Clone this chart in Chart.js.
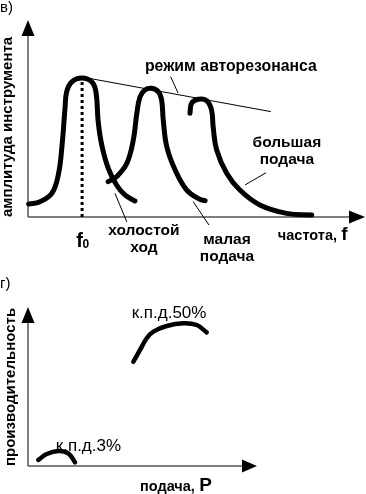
<!DOCTYPE html>
<html>
<head>
<meta charset="utf-8">
<script src="https://cdn.jsdelivr.net/npm/chart.js@4.4.0/dist/chart.umd.min.js"></script>
<style>
  html, body { margin: 0; padding: 0; background: #fff; width: 366px; height: 494px; overflow: hidden; }
  canvas { position: absolute; left: 0; }
</style>
</head>
<body>
<canvas id="chart_v" width="366" height="270" style="top:0"></canvas>
<canvas id="chart_g" width="366" height="224" style="top:270px"></canvas>
<script>
// ---- в) амплитуда инструмента / частота (arbitrary units 0..100)
const idleX  = [0.2, 3.7, 7.4, 9.4, 10.5, 11.5, 12.0, 13.6, 16.8, 19.8, 21.1, 21.8, 22.9, 24.9, 27.5, 30.1, 33.2];
const idleY  = [7.1, 8.4, 13.0, 23.1, 37.9, 59.9, 68.8, 74.3, 76.4, 74.3, 68.8, 52.4, 39.6, 26.9, 17.6, 12.1, 8.8];
const smallX = [24.9, 27.5, 30.7, 32.7, 33.8, 34.8, 36.3, 38.4, 40.5, 41.5, 42.0, 43.1, 45.7, 49.3, 53.4, 55.0];
const smallY = [19.4, 22.1, 29.5, 42.3, 57.0, 66.1, 69.8, 70.7, 68.8, 64.3, 53.3, 38.6, 25.8, 14.8, 9.7, 9.0];
const bigX   = [50.3, 50.8, 52.9, 55.5, 57.0, 57.5, 58.6, 61.7, 65.8, 72.0, 80.3, 88.1];
const bigY   = [57.0, 62.5, 64.7, 63.9, 58.8, 49.6, 36.8, 24.0, 14.8, 6.6, 2.0, 1.1];
const envelopeX = [16.8, 75.4];
const envelopeY = [76.9, 57.9];
const f0 = 16.8;

// ---- г) производительность / подача
const eff50X = [49.0, 52.1, 55.2, 58.3, 64.5, 72.2, 78.5, 83.1];
const eff50Y = [72.4, 80.6, 88.7, 93.3, 97.2, 99.1, 97.9, 92.8];
const eff3X  = [4.8, 8.7, 14.1, 18.7, 21.9];
const eff3Y  = [4.2, 8.3, 10.4, 8.8, 2.6];

const zip = (xs, ys) => xs.map((x, i) => ({ x: x, y: ys[i] }));

const curve = (xs, ys, w) => ({
  data: zip(xs, ys),
  borderColor: "#000",
  borderWidth: w,
  tension: 0.4,
  borderCapStyle: "round",
  borderJoinStyle: "round",
  pointRadius: 0,
  clip: false,
});
const thin = (pts) => ({
  data: pts,
  borderColor: "#000",
  borderWidth: 1,
  tension: 0,
  pointRadius: 0,
  clip: false,
});

// axes with arrows + text notes, all placed via the chart scales
const notes = {
  id: "notes",
  beforeDatasetsDraw(chart, args, opts) {
    const { ctx, scales: { x, y } } = chart;
    const x0 = x.getPixelForValue(0), y0 = y.getPixelForValue(0);
    const xb = x.getPixelForValue(100), yb = y.getPixelForValue(100);
    const xt = x.getPixelForValue(opts.xTip), yt = y.getPixelForValue(opts.yTip);
    ctx.save();
    ctx.strokeStyle = "#555";
    ctx.lineWidth = 1.5;
    ctx.beginPath();
    ctx.moveTo(x0, y0); ctx.lineTo(xb, y0);
    ctx.moveTo(x0, y0); ctx.lineTo(x0, yb);
    ctx.stroke();
    ctx.fillStyle = "#000";
    ctx.beginPath();
    ctx.moveTo(xt, y0); ctx.lineTo(xb - 1, y0 - 6.5); ctx.lineTo(xb - 1, y0 + 6.5);
    ctx.closePath(); ctx.fill();
    ctx.beginPath();
    ctx.moveTo(x0, yt); ctx.lineTo(x0 - 6.5, yb + 1); ctx.lineTo(x0 + 6.5, yb + 1);
    ctx.closePath(); ctx.fill();
    ctx.restore();
  },
  afterDatasetsDraw(chart, args, opts) {
    const { ctx, scales: { x, y } } = chart;
    ctx.save();
    ctx.fillStyle = "#000";
    opts.labels.forEach(l => {
      const px = x.getPixelForValue(l.x), py = y.getPixelForValue(l.y);
      ctx.font = l.font;
      ctx.textAlign = l.align || "center";
      ctx.textBaseline = l.base || "alphabetic";
      if (l.rot) {
        ctx.save();
        ctx.translate(px, py);
        ctx.rotate(-Math.PI / 2);
        ctx.fillText(l.t, 0, 0);
        ctx.restore();
      } else {
        ctx.fillText(l.t, px, py);
      }
    });
    ctx.restore();
  }
};

const B = "Liberation Sans, Arial, sans-serif";

const baseOptions = (pad, xTip, yTip, labels) => ({
  responsive: false,
  animation: false,
  layout: { padding: pad },
  scales: {
    x: { type: "linear", display: false, min: 0, max: 100 },
    y: { type: "linear", display: false, min: 0, max: 100 },
  },
  plugins: {
    legend: { display: false },
    tooltip: { enabled: false },
    notes: { xTip: xTip, yTip: yTip, labels: labels },
  },
});

new Chart(document.getElementById("chart_v").getContext("2d"), {
  type: "line",
  data: {
    datasets: [
      curve(idleX, idleY, 5),
      curve(smallX, smallY, 5),
      curve(bigX, bigY, 5),
      thin(zip(envelopeX, envelopeY)),
      Object.assign(thin([{ x: f0, y: 0 }, { x: f0, y: 76.4 }]), { borderWidth: 3, borderDash: [3, 3] }),
      thin([{ x: 44.3, y: 77.1 }, { x: 46.6, y: 68.1 }]),
      thin([{ x: 73.9, y: 24.3 }, { x: 67.4, y: 17.6 }]),
      thin([{ x: 27.0, y: 13.0 }, { x: 30.7, y: -2.7 }]),
      thin([{ x: 51.3, y: 8.4 }, { x: 56.2, y: -4.4 }]),
    ],
  },
  options: baseOptions({ left: 28, right: 16, top: 35, bottom: 53 }, 104.7, 108.2, [
    { t: "в)", x: -8.7, y: 112.6, font: "15px " + B, align: "left" },
    { t: "амплитуда инструмента", x: -6.2, y: 49.5, font: "bold 15px " + B, base: "middle", rot: true },
    { t: "режим авторезонанса", x: 63.0, y: 80.2, font: "bold 15.8px " + B },
    { t: "большая", x: 80.4, y: 38.5, font: "bold 15.5px " + B },
    { t: "подача", x: 80.4, y: 29.1, font: "bold 15.5px " + B },
    { t: "холостой", x: 36.0, y: -9.9, font: "bold 15.5px " + B },
    { t: "ход", x: 36.0, y: -19.2, font: "bold 15.5px " + B },
    { t: "малая", x: 61.8, y: -14.8, font: "bold 15.5px " + B },
    { t: "подача", x: 61.8, y: -24.2, font: "bold 15.5px " + B },
    { t: "f", x: 16.0, y: -16.5, font: "bold 20px " + B },
    { t: "0", x: 18.0, y: -17.0, font: "bold 12px " + B },
    { t: "частота,", x: 77.6, y: -12.9, font: "bold 14.5px " + B, align: "left" },
    { t: "f", x: 97.3, y: -12.6, font: "bold 19px " + B, align: "left" },
  ]),
  plugins: [notes],
});

new Chart(document.getElementById("chart_g").getContext("2d"), {
  type: "line",
  data: {
    datasets: [
      Object.assign(curve(eff50X, eff50Y, 4.5), { tension: 0.3 }),
      curve(eff3X, eff3Y, 4.5),
    ],
  },
  options: baseOptions({ left: 28, right: 123, top: 52, bottom: 28 }, 106.5, 110.4, [
    { t: "г)", x: -13.0, y: 123.6, font: "15px " + B, align: "left" },
    { t: "производительность", x: -7.9, y: 54.9, font: "bold 15px " + B, base: "middle", rot: true },
    { t: "к.п.д.50%", x: 65.6, y: 102.8, font: "17px " + B },
    { t: "к.п.д.3%", x: 28.1, y: 10.4, font: "17px " + B },
    { t: "подача,", x: 52.1, y: -17.7, font: "bold 14.5px " + B, align: "left" },
    { t: "P", x: 79.6, y: -17.7, font: "bold 19px " + B, align: "left" },
  ]),
  plugins: [notes],
});
</script>
</body>
</html>
